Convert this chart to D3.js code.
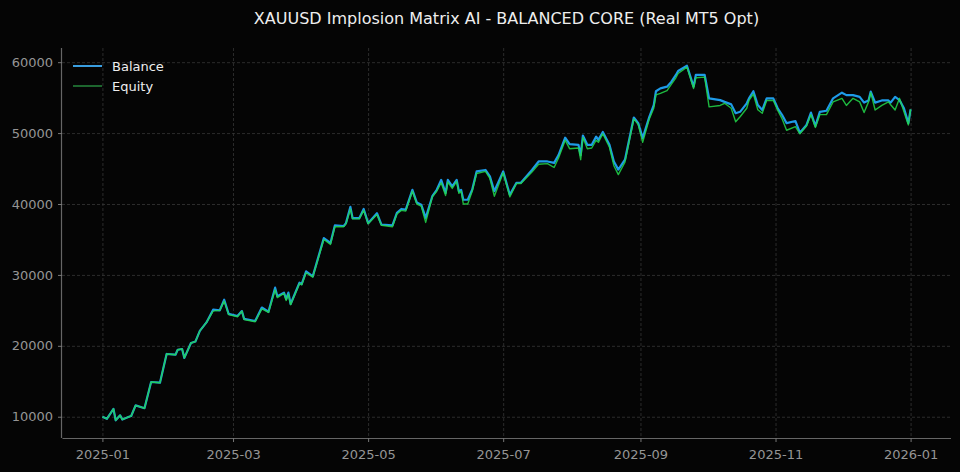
<!DOCTYPE html>
<html>
<head>
<meta charset="utf-8">
<script src="https://cdn.jsdelivr.net/npm/d3@7"></script>
<style>
  html, body { margin: 0; padding: 0; background: #050505; }
  svg { display: block; font-family: "DejaVu Sans", sans-serif; }
</style>
</head>
<body>
<div id="chart"></div>
<script>
// Trade dates (approximate)
const dates = [
  "2025-01-01","2025-01-03","2025-01-06","2025-01-07","2025-01-09","2025-01-10","2025-01-13","2025-01-14",
  "2025-01-16","2025-01-20","2025-01-23","2025-01-27","2025-01-30","2025-02-03","2025-02-04","2025-02-06",
  "2025-02-07","2025-02-10","2025-02-12","2025-02-14","2025-02-17","2025-02-20","2025-02-23","2025-02-25",
  "2025-02-27","2025-03-03","2025-03-05","2025-03-06","2025-03-11","2025-03-14","2025-03-17","2025-03-20",
  "2025-03-21","2025-03-24","2025-03-25","2025-03-26","2025-03-27","2025-03-31","2025-04-01","2025-04-03",
  "2025-04-06","2025-04-11","2025-04-14","2025-04-16","2025-04-20","2025-04-21","2025-04-23","2025-04-24",
  "2025-04-27","2025-04-29","2025-05-01","2025-05-05","2025-05-07","2025-05-12","2025-05-14","2025-05-16",
  "2025-05-18","2025-05-21","2025-05-23","2025-05-25","2025-05-27","2025-05-30","2025-06-01","2025-06-03",
  "2025-06-05","2025-06-06","2025-06-08","2025-06-10","2025-06-11","2025-06-12","2025-06-13","2025-06-15",
  "2025-06-17","2025-06-19","2025-06-23","2025-06-25","2025-06-27","2025-07-01","2025-07-04","2025-07-07",
  "2025-07-09","2025-07-14","2025-07-17","2025-07-21","2025-07-24","2025-07-26","2025-07-29","2025-07-31",
  "2025-08-04","2025-08-05","2025-08-06","2025-08-08","2025-08-10","2025-08-12","2025-08-13","2025-08-15",
  "2025-08-18","2025-08-20","2025-08-22","2025-08-25","2025-08-29","2025-08-31","2025-09-02","2025-09-05",
  "2025-09-07","2025-09-08","2025-09-10","2025-09-13","2025-09-15","2025-09-17","2025-09-18","2025-09-22",
  "2025-09-25","2025-09-26","2025-09-30","2025-10-02","2025-10-07","2025-10-09","2025-10-12","2025-10-14",
  "2025-10-16","2025-10-19","2025-10-20","2025-10-22","2025-10-24","2025-10-26","2025-10-28","2025-10-31",
  "2025-11-02","2025-11-04","2025-11-06","2025-11-10","2025-11-12","2025-11-15","2025-11-17","2025-11-19",
  "2025-11-21","2025-11-24","2025-11-27","2025-12-01","2025-12-03","2025-12-06","2025-12-09","2025-12-11",
  "2025-12-13","2025-12-14","2025-12-16","2025-12-19","2025-12-22","2025-12-23","2025-12-25","2025-12-27",
  "2025-12-29","2025-12-31","2026-01-01"
];

const balance = [
  10000, 9700, 11100, 9500, 10200, 9600, 10000, 10100,
  11600, 11200, 14900, 14800, 18850, 18750, 19450, 19550,
  18300, 20400, 20600, 22100, 23300, 25100, 25000, 26500,
  24500, 24200, 24900, 23800, 23500, 25400, 24800, 28200,
  27000, 27500, 26600, 27500, 25900, 28900, 28700, 30500,
  29800, 35200, 34500, 37000, 36900, 37300, 39600, 38000,
  38000, 39300, 37300, 38700, 37100, 37000, 38750, 39300,
  39200, 42000, 40200, 39900, 38050, 41100, 42000, 43400,
  41550, 43400, 42500, 43400, 41800, 42000, 40600, 40600,
  42000, 44600, 44800, 43900, 41800, 44600, 41300, 43000,
  43000, 44800, 46000, 46000, 45800, 46900, 49350, 48450,
  48350, 46900, 49650, 48350, 48350, 49500, 49050, 50150,
  48350, 46000, 44850, 46250, 52200, 51400, 49300, 52300,
  53950, 55900, 56300, 56550, 57250, 58200, 58750, 59500,
  56550, 58200, 58200, 54900, 54650, 54400, 54050, 52800,
  53000, 54200, 54900, 55900, 53950, 53250, 54900, 54900,
  53500, 52550, 51400, 51700, 50050, 51150, 52900, 51000,
  53000, 53150, 54900, 55700, 55350, 55350, 55100, 54300,
  54600, 55850, 54300, 54600, 54600, 54300, 55100, 54650,
  53500, 51400, 53350
];

const equity = [
  10000, 9700, 11100, 9500, 10200, 9600, 10000, 10100,
  11600, 11200, 14900, 14800, 18850, 18750, 19450, 19550,
  18300, 20400, 20600, 22100, 23300, 24900, 25000, 26300,
  24400, 24100, 24900, 23700, 23400, 25200, 24700, 27900,
  26800, 27400, 26400, 27300, 25800, 28800, 28600, 30300,
  29700, 35000, 34300, 36800, 36800, 37200, 39300, 37900,
  37900, 39100, 37200, 38500, 37000, 36800, 38600, 39100,
  39000, 41800, 40000, 39700, 37400, 41000, 41800, 43000,
  41200, 43100, 42200, 43200, 41500, 41800, 40000, 40000,
  41800, 44300, 44600, 43600, 41100, 44400, 41000, 42900,
  42900, 44500, 45600, 45700, 45150, 46500, 49000, 47800,
  47900, 46250, 49400, 47800, 47900, 49000, 48700, 49900,
  48000, 45400, 44150, 45900, 52000, 51200, 48700, 52000,
  53500, 55400, 55600, 56000, 56900, 57800, 58400, 59300,
  56300, 57800, 57900, 53700, 53900, 54200, 53500, 51600,
  52300, 53500, 54600, 55500, 53300, 52800, 54600, 54600,
  53200, 52000, 50400, 50900, 49900, 51000, 52600, 50800,
  52600, 52600, 54400, 54900, 53900, 54900, 54400, 52900,
  54400, 55700, 53250, 53900, 54400, 54000, 53250, 54900,
  53000, 51150, 53350
];

const yTicks = [10000, 20000, 30000, 40000, 50000, 60000];
const xTickDates = ["2025-01-01","2025-03-01","2025-05-01","2025-07-01","2025-09-01","2025-11-01","2026-01-01"];
const seriesNames = ["Balance", "Equity"];
const titleText = "XAUUSD Implosion Matrix AI - BALANCED CORE (Real MT5 Opt)";

const width = 960, height = 472;
const margin = { top: 48, right: 9, bottom: 34, left: 62 };
const innerW = width - margin.left - margin.right;
const innerH = height - margin.top - margin.bottom;

const parse = d3.timeParse("%Y-%m-%d");
const balanceData = dates.map((d, i) => ({ date: parse(d), value: balance[i] }));
const equityData = dates.map((d, i) => ({ date: parse(d), value: equity[i] }));

// matplotlib-style 5% padding around the data
const xExt = d3.extent(balanceData, d => d.date);
const xPad = (xExt[1] - xExt[0]) * 0.05;
const allVals = balance.concat(equity);
const yMin = d3.min(allVals), yMax = d3.max(allVals);
const yPad = (yMax - yMin) * 0.05;

const x = d3.scaleTime()
  .domain([new Date(+xExt[0] - xPad), new Date(+xExt[1] + xPad)])
  .range([0, innerW]);
const y = d3.scaleLinear()
  .domain([yMin - yPad, yMax + yPad])
  .range([innerH, 0]);

const svg = d3.select("#chart").append("svg")
  .attr("width", width)
  .attr("height", height)
  .style("background", "#050505");

svg.append("text")
  .attr("x", margin.left + innerW / 2)
  .attr("y", 24)
  .attr("text-anchor", "middle")
  .attr("fill", "#eeeeee")
  .style("font-size", "16px")
  .text(titleText);

const g = svg.append("g").attr("transform", `translate(${margin.left},${margin.top})`);

// grid
g.append("g").selectAll("line").data(yTicks).join("line")
  .attr("x1", 0).attr("x2", innerW)
  .attr("y1", d => y(d) + 0.5).attr("y2", d => y(d) + 0.5)
  .attr("stroke", "#363636").attr("stroke-width", 0.8)
  .attr("stroke-dasharray", "3,2");
g.append("g").selectAll("line").data(xTickDates.map(parse)).join("line")
  .attr("x1", d => x(d) + 0.5).attr("x2", d => x(d) + 0.5)
  .attr("y1", 0).attr("y2", innerH)
  .attr("stroke", "#363636").attr("stroke-width", 0.8)
  .attr("stroke-dasharray", "3,2");

// axes
const xAxis = g.append("g")
  .attr("transform", `translate(0,${innerH})`)
  .call(d3.axisBottom(x).tickValues(xTickDates.map(parse)).tickFormat(d3.timeFormat("%Y-%m")).tickSize(4).tickPadding(8));
const yAxis = g.append("g")
  .call(d3.axisLeft(y).tickValues(yTicks).tickFormat(d3.format("d")).tickSize(4).tickPadding(5));

[xAxis, yAxis].forEach(ax => {
  ax.select(".domain").attr("stroke", "#666").attr("stroke-width", 1.2);
  ax.selectAll(".tick line").attr("stroke", "#777");
  ax.selectAll(".tick text").attr("fill", "#959595").style("font-size", "13px").style("font-family", "DejaVu Sans, sans-serif");
});
xAxis.select(".domain").attr("d", `M0.5,0.5H${innerW}`);
yAxis.select(".domain").attr("d", `M-0.5,${innerH}V0`);

// lines
const line = d3.line().x(d => x(d.date)).y(d => y(d.value));

g.append("path")
  .datum(balanceData)
  .attr("fill", "none")
  .attr("stroke", "#1e9be8")
  .attr("stroke-width", 2.2)
  .attr("stroke-linejoin", "round")
  .attr("d", line);

g.append("path")
  .datum(equityData)
  .attr("fill", "none")
  .attr("stroke", "#22d84a")
  .attr("stroke-opacity", 0.85)
  .attr("stroke-width", 1.4)
  .attr("stroke-linejoin", "round")
  .attr("d", line);

// legend
const legendColors = ["#3a9ee0", "#2ea84a"];
const legend = svg.append("g").attr("transform", "translate(73,66)");
seriesNames.forEach((name, i) => {
  const row = legend.append("g").attr("transform", `translate(0,${i * 20})`);
  row.append("line")
    .attr("x1", 0).attr("x2", 29)
    .attr("stroke", legendColors[i])
    .attr("stroke-width", i === 0 ? 2 : 1.2);
  row.append("text")
    .attr("x", 39).attr("y", 4.5)
    .attr("fill", "#eeeeee")
    .style("font-size", "13px")
    .text(name);
});
</script>
</body>
</html>
